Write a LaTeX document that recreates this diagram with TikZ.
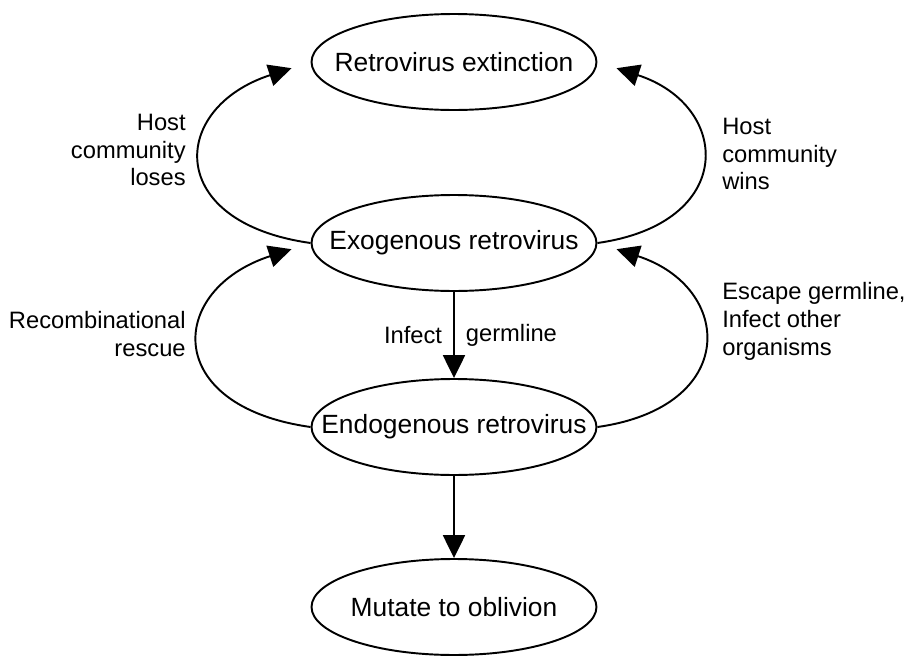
\documentclass[tikz,border=0pt]{standalone}
\usepackage{fontspec}
\setmainfont{Liberation Sans}
\usetikzlibrary{shapes.geometric,arrows.meta}

\newcommand{\stagetext}[1]{\makebox[0pt]{#1}}

\begin{document}
\begin{tikzpicture}[x=0.02cm, y=0.02cm]
            \tikzstyle{every node}+=[inner sep=0pt]
            \tikzstyle{stage}=[ellipse, draw=black, line width=1.1pt, minimum width=5.7cm, minimum height=1.92cm, font=\fontsize{15}{18}\selectfont]
            \tikzstyle{note}=[font=\fontsize{13.5}{15.9}\selectfont]
            \tikzstyle{flow}=[black, line width=1.1pt, -{Triangle[length=13pt,width=12.5pt]}]
            \useasboundingbox (0,0) rectangle (914,-656);
            \node [stage] (ext) at (454,-62) {\stagetext{Retrovirus extinction}};
            \node [stage] (exo) at (454,-243) {\stagetext{Exogenous retrovirus}};
            \node [stage] (endo) at (454,-427) {\stagetext{Endogenous retrovirus}};
            \node [stage] (mut) at (454,-607) {\stagetext{Mutate to oblivion}};
            \draw [flow, shorten >=0.4cm] (exo.west) to [out=172,in=198,looseness=2.1] (ext.west);
            \draw [flow, shorten >=0.4cm] (exo.east) to [out=8,in=-18,looseness=2.0] (ext.east);
            \draw [flow, shorten >=0.4cm] (endo.west) to [out=172,in=198,looseness=2.1] (exo.west);
            \draw [flow, shorten >=0.4cm] (endo.east) to [out=8,in=-18,looseness=2.0] (exo.east);
            \draw [flow] (exo) -- (endo)
                node [pos=0.5, left=0.22cm, note] (infect) {Infect}
                node [pos=0.5, right=0.22cm, note] (germ) {germline};
            \draw [flow] (endo) -- (mut);
            \node [note, align=right, anchor=east] (loses) at (186,-150) {Host\\community\\loses};
            \node [note, align=right, anchor=east] (rescue) at (186,-334) {Recombinational\\rescue};
            \node [note, align=left, anchor=west] (wins) at (722,-154) {Host\\community\\wins};
            \node [note, align=left, anchor=west] (escape) at (722,-321) {Escape germline,\\Infect other\\organisms};
\end{tikzpicture}
\end{document}
